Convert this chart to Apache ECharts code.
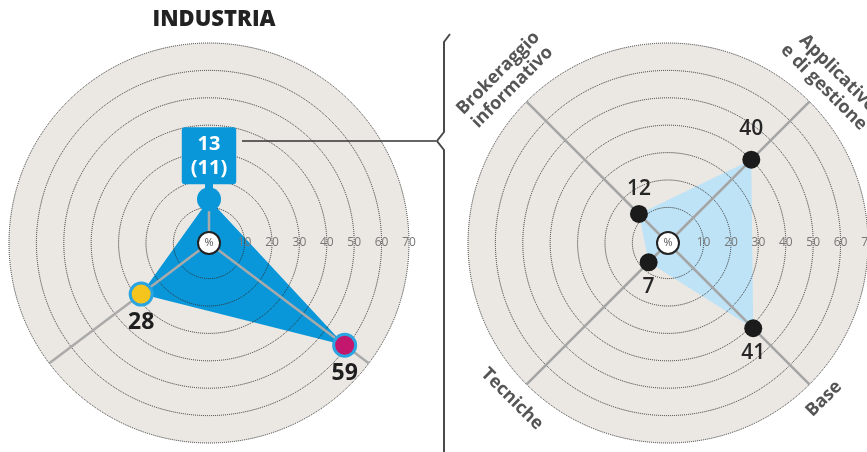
<!DOCTYPE html>
<html>
<head>
<meta charset="utf-8">
<script src="https://cdn.jsdelivr.net/npm/echarts@6/dist/echarts.min.js"></script>
<style>
  html, body { margin: 0; padding: 0; background: #ffffff; }
  #chart { width: 867px; height: 452px; }
</style>
</head>
<body>
<div id="chart"></div>
<script>
// INDUSTRIA: share of each role group (%), with the previous figure in brackets
const industriaAngles = [90, 217, 323];
const industriaValues = [13, 28, 59];
const industriaPrevious = [11, null, null];
const industriaColors = ['#0a97d9', '#f6c51d', '#c2176d'];
const industriaAxisEnds = [13, 70, 70];

// Breakdown of the highlighted group (%)
const detailCategories = ['Brokeraggio\ninformativo', 'Applicativo\ne di gestione', 'Base', 'Tecniche'];
const detailAngles = [135, 45, 315, 225];
const detailValues = [12, 40, 41, 7];

// Ring scale
const ringTicks = [10, 20, 30, 40, 50, 60, 70];
const scaleMin = -3;
const scaleMax = 70;

const FONT = '"Open Sans", "Noto Sans", sans-serif';
const chart = echarts.init(document.getElementById('chart'), null, { renderer: 'canvas' });

const centers = [[209, 243], [668, 243]];
const polar = [];
const angleAxis = [];
const radiusAxis = [];
centers.forEach((c, k) => {
  // disc polar (background) and ring polar (dotted rings + labels on top of fills)
  polar.push({ center: c, radius: 200 }, { center: c, radius: 200 });
  for (let j = 0; j < 2; j++) {
    angleAxis.push({
      polarIndex: 2 * k + j, type: 'value', min: 0, max: 360,
      startAngle: 0, clockwise: false, show: false
    });
  }
  radiusAxis.push({
    polarIndex: 2 * k, type: 'value', min: scaleMin, max: scaleMax, splitNumber: 7,
    axisLine: { show: false }, axisTick: { show: false }, axisLabel: { show: false },
    splitLine: { show: false },
    splitArea: { show: true, areaStyle: { color: ['#ebe8e3'] } }
  });
  radiusAxis.push({
    polarIndex: 2 * k + 1, type: 'value', min: scaleMin, max: scaleMax, splitNumber: 7, z: 3,
    axisLine: { show: false }, axisTick: { show: false },
    axisLabel: {
      show: true, margin: 0, align: 'center', verticalAlign: 'middle',
      color: '#777777', fontSize: 12, fontFamily: FONT,
      formatter: v => (ringTicks.indexOf(v) >= 0 ? String(v) : '')
    },
    splitLine: {
      show: true,
      lineStyle: { color: '#2e2e2e', type: 'dotted', width: 1 }
    },
    splitArea: { show: false }
  });
});

function closedShape(values, angles) {
  const pts = values.map((v, i) => [v, angles[i]]);
  pts.push(pts[0].slice());
  return pts;
}

const series = [];

// ---- left radar ----
series.push({
  type: 'line', coordinateSystem: 'polar', polarIndex: 0, z: 2, silent: true,
  data: closedShape(industriaValues, industriaAngles),
  symbol: 'none', lineStyle: { width: 0 },
  areaStyle: { color: '#0a97d9', opacity: 1 }
});
industriaAngles.forEach((a, i) => {
  series.push({
    type: 'line', coordinateSystem: 'polar', polarIndex: 0, z: 4, silent: true,
    data: [[scaleMin, a], [industriaAxisEnds[i], a]],
    symbol: 'none', lineStyle: { color: '#aaaaaa', width: 2.5 }
  });
});
series.push({
  type: 'scatter', coordinateSystem: 'polar', polarIndex: 0, z: 5, silent: true,
  data: industriaValues.map((v, i) => {
    const item = {
      value: [v, industriaAngles[i]],
      symbolSize: i === 0 ? 24 : 22,
      itemStyle: {
        color: industriaColors[i], opacity: 1,
        borderColor: '#2aa5e2',
        borderWidth: i === 0 ? 0 : 3
      },
      label: {
        show: true, position: 'bottom', distance: 4,
        formatter: String(v),
        color: '#1e1e1e', fontSize: 23, fontWeight: 'bold', fontFamily: FONT
      }
    };
    if (industriaPrevious[i] != null) {
      item.label = {
        show: true, position: 'top', distance: 3,
        formatter: '{v|' + v + '}\n{v|(' + industriaPrevious[i] + ')}',
        backgroundColor: '#0a97d9', borderRadius: 3, padding: [5, 9, 4, 9],
        rich: {
          v: { color: '#ffffff', fontSize: 20, fontWeight: 'bold', lineHeight: 24,
               align: 'center', fontFamily: FONT }
        }
      };
    }
    return item;
  })
});
// small neck joining the value box to its marker
series.push({
  type: 'scatter', coordinateSystem: 'polar', polarIndex: 0, z: 5, silent: true,
  data: [[industriaValues[0], industriaAngles[0]]],
  symbol: 'rect', symbolSize: [8, 10], symbolOffset: [0, -14],
  itemStyle: { color: '#0a97d9', opacity: 1 }
});

// ---- right radar ----
series.push({
  type: 'line', coordinateSystem: 'polar', polarIndex: 2, z: 2, silent: true,
  data: closedShape(detailValues, detailAngles),
  symbol: 'none', lineStyle: { width: 0 },
  areaStyle: { color: '#bfe3f6', opacity: 1 }
});
detailAngles.forEach(a => {
  series.push({
    type: 'line', coordinateSystem: 'polar', polarIndex: 2, z: 4, silent: true,
    data: [[scaleMin, a], [scaleMax, a]],
    symbol: 'none', lineStyle: { color: '#a5a5a5', width: 2.5 }
  });
});
const detailLabelPos = ['top', 'top', 'bottom', 'bottom'];
const detailLabelGap = [5, 11, 5, 5];
series.push({
  type: 'scatter', coordinateSystem: 'polar', polarIndex: 2, z: 5, silent: true,
  symbolSize: 18,
  itemStyle: { color: '#1b1b1b', opacity: 1 },
  data: detailValues.map((v, i) => ({
    value: [v, detailAngles[i]],
    label: {
      show: true, position: detailLabelPos[i], distance: detailLabelGap[i],
      formatter: String(v), color: '#262626', fontSize: 21, fontWeight: 600, fontFamily: FONT
    }
  }))
});
// axis names, outside the outer ring
const nameRadius = [81, 81, 77.5, 77.5];
const nameRotate = [45, -45, 45, -45];
series.push({
  type: 'scatter', coordinateSystem: 'polar', polarIndex: 2, z: 6, silent: true, clip: false,
  symbolSize: 0,
  data: detailCategories.map((name, i) => ({
    value: [nameRadius[i], detailAngles[i]],
    label: {
      show: true, position: 'inside', rotate: nameRotate[i],
      formatter: name, color: '#2a2a2a', fontSize: 18, fontWeight: 'bold',
      lineHeight: 20, align: 'center', verticalAlign: 'middle', fontFamily: FONT
    }
  }))
});

// centre "%" badges
[0, 2].forEach(p => {
  series.push({
    type: 'scatter', coordinateSystem: 'polar', polarIndex: p, z: 7, silent: true,
    data: [[scaleMin, 0]], symbolSize: 22,
    itemStyle: { color: '#ffffff', borderColor: '#222222', borderWidth: 2, opacity: 1 },
    label: { show: true, position: 'inside', formatter: '%', color: '#555555',
             fontSize: 11, fontFamily: FONT }
  });
});

chart.setOption({
  animation: false,
  title: {
    text: 'INDUSTRIA', left: 209, top: 4, textAlign: 'center',
    textStyle: { fontSize: 22, fontWeight: 800, color: '#222222', fontFamily: FONT }
  },
  polar, angleAxis, radiusAxis, series,
  graphic: [
    { type: 'polyline', z: 10, shape: { points: [[242, 141], [436, 141]] },
      style: { stroke: '#333333', lineWidth: 1.5, fill: null } },
    { type: 'polyline', z: 10,
      shape: { points: [[450, 34], [444, 42], [444, 132], [437, 141], [444, 150], [444, 452]] },
      style: { stroke: '#4a4a4a', lineWidth: 2, fill: null } }
  ]
});
</script>
</body>
</html>
